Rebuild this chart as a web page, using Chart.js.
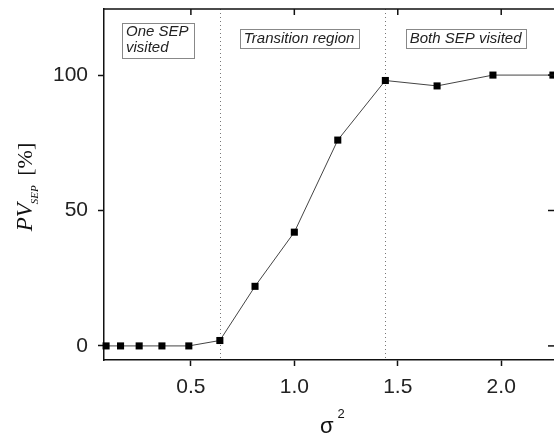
<!DOCTYPE html>
<html>
<head>
<meta charset="utf-8">
<script src="https://cdn.jsdelivr.net/npm/chart.js@4/dist/chart.umd.min.js"></script>
<style>
  html, body { margin: 0; padding: 0; background: #fff; overflow: hidden; }
  #wrap { width: 560px; height: 439px; }
</style>
</head>
<body>
<div id="wrap"><canvas id="c" width="560" height="439"></canvas></div>
<script>
// ---- data ----
const sigma2 = [0.09, 0.16, 0.25, 0.36, 0.49, 0.64, 0.81, 1.00, 1.21, 1.44, 1.69, 1.96, 2.25];
const pvSep  = [0, 0, 0, 0, 0, 2, 22, 42, 76, 98, 96, 100, 100];
const xTickValues = [0.5, 1.0, 1.5, 2.0];
const yTickValues = [0, 50, 100];
const regionBoundaries = [0.64, 1.44];
const regionLabels = [
  { lines: ['One SEP', 'visited'], x: 0.34, y: 112.9 },
  { lines: ['Transition region'],  x: 1.023, y: 113.5 },
  { lines: ['Both SEP visited'],   x: 1.828, y: 113.5 }
];

const points = sigma2.map((x, i) => ({ x: x, y: pvSep[i] }));

const framePlugin = {
  id: 'frame',
  beforeDatasetsDraw(chart) {
    const ctx = chart.ctx, a = chart.chartArea, xs = chart.scales.x;
    ctx.save();
    ctx.strokeStyle = '#777';
    ctx.lineWidth = 1;
    ctx.setLineDash([1, 3]);
    regionBoundaries.forEach(v => {
      const px = Math.round(xs.getPixelForValue(v)) + 0.5;
      ctx.beginPath(); ctx.moveTo(px, a.top); ctx.lineTo(px, a.bottom); ctx.stroke();
    });
    ctx.restore();
  },
  afterDraw(chart) {
    const ctx = chart.ctx, a = chart.chartArea, xs = chart.scales.x, ys = chart.scales.y;
    ctx.save();
    // top and right frame
    ctx.strokeStyle = '#111';
    ctx.lineWidth = 1.5;
    ctx.beginPath();
    ctx.moveTo(a.left, a.top); ctx.lineTo(a.right, a.top); ctx.lineTo(a.right, a.bottom);
    ctx.stroke();
    // inward ticks on top and right
    xTickValues.forEach(v => {
      const px = xs.getPixelForValue(v);
      ctx.beginPath(); ctx.moveTo(px, a.top); ctx.lineTo(px, a.top + 6); ctx.stroke();
    });
    yTickValues.forEach(v => {
      const py = ys.getPixelForValue(v);
      ctx.beginPath(); ctx.moveTo(a.right, py); ctx.lineTo(a.right - 7, py); ctx.stroke();
    });

    // region label boxes
    ctx.font = 'italic 15px "Liberation Sans", Arial, sans-serif';
    ctx.textBaseline = 'middle';
    regionLabels.forEach(r => {
      const cx = xs.getPixelForValue(r.x), cy = ys.getPixelForValue(r.y);
      const w = Math.max(...r.lines.map(t => ctx.measureText(t).width));
      const lh = 16;
      const bw = w + (r.lines.length > 1 ? 9 : 8), bh = r.lines.length * lh + 3;
      const bx = Math.round(cx - bw / 2), by = Math.round(cy - bh / 2);
      ctx.fillStyle = '#fff';
      ctx.fillRect(bx, by, bw, bh);
      ctx.strokeStyle = '#888';
      ctx.lineWidth = 1;
      ctx.strokeRect(bx + 0.5, by + 0.5, Math.round(bw), Math.round(bh));
      ctx.fillStyle = '#222';
      ctx.textAlign = r.lines.length > 1 ? 'left' : 'center';
      r.lines.forEach((t, i) => {
        const ty = cy - (r.lines.length - 1) * lh / 2 + i * lh;
        ctx.fillText(t, r.lines.length > 1 ? bx + 4 : cx, ty);
      });
    });

    // y axis title: PV_SEP [%]
    ctx.save();
    ctx.translate(32, 187);
    ctx.rotate(-Math.PI / 2);
    ctx.fillStyle = '#111';
    ctx.textAlign = 'left';
    ctx.textBaseline = 'alphabetic';
    const fMain = 'italic 23px "Liberation Serif", "Times New Roman", serif';
    const fSub = 'italic 11px "Liberation Serif", "Times New Roman", serif';
    const fBr = '22px "Liberation Serif", "Times New Roman", serif';
    const gap = 3;
    ctx.font = fMain; const w1 = ctx.measureText('PV').width;
    ctx.font = fSub; const w2 = ctx.measureText('SEP').width;
    ctx.font = fBr; const w3 = ctx.measureText(' [%]').width;
    let x0 = -(w1 + w2 + w3 + gap) / 2;
    ctx.font = fMain; ctx.fillText('PV', x0, 0); x0 += w1;
    ctx.font = fSub; ctx.fillText('SEP', x0 - 1, 6); x0 += w2 + gap;
    ctx.font = fBr; ctx.fillText(' [%]', x0, 0);
    ctx.restore();

    // x axis title: sigma^2
    ctx.fillStyle = '#111';
    ctx.textAlign = 'left';
    ctx.textBaseline = 'alphabetic';
    ctx.font = '22px "Liberation Sans", Arial, sans-serif';
    const ws = ctx.measureText('σ').width;
    ctx.fillText('σ', 320, 433);
    ctx.font = '13px "Liberation Sans", Arial, sans-serif';
    ctx.fillText('2', 320 + ws + 4, 418);
    ctx.restore();
  }
};

new Chart(document.getElementById('c'), {
  type: 'line',
  data: {
    datasets: [{
      data: points,
      borderColor: '#444',
      borderWidth: 1,
      pointStyle: 'rect',
      pointRadius: 5,
      pointHoverRadius: 5,
      pointBackgroundColor: '#000',
      pointBorderColor: '#000',
      pointBorderWidth: 0,
      tension: 0,
      clip: false
    }]
  },
  options: {
    responsive: false,
    animation: false,
    devicePixelRatio: 1,
    layout: { padding: { left: 0, top: 9, right: 4, bottom: 0 } },
    plugins: { legend: { display: false }, tooltip: { enabled: false } },
    scales: {
      x: {
        type: 'linear',
        min: 0.08,
        max: 2.26,
        afterFit(s) { s.height = 79; s.paddingLeft = 0; s.paddingRight = 0; },
        afterBuildTicks(s) { s.ticks = xTickValues.map(v => ({ value: v })); },
        grid: { drawOnChartArea: false, drawTicks: true, tickLength: 6, tickWidth: 1.5, tickColor: '#111' },
        border: { display: true, color: '#111', width: 1.5 },
        ticks: {
          color: '#222',
          padding: 9,
          maxRotation: 0,
          font: { family: '"Liberation Sans", Arial, sans-serif', size: 21 },
          callback: v => Number(v).toFixed(1)
        }
      },
      y: {
        type: 'linear',
        min: -5.2,
        max: 124.4,
        afterFit(s) { s.width = 104; s.paddingTop = 0; s.paddingBottom = 0; },
        afterBuildTicks(s) { s.ticks = yTickValues.map(v => ({ value: v })); },
        grid: { drawOnChartArea: false, drawTicks: true, tickLength: 6, tickWidth: 1.5, tickColor: '#111' },
        border: { display: true, color: '#111', width: 1.5 },
        ticks: {
          color: '#222',
          padding: 10,
          font: { family: '"Liberation Sans", Arial, sans-serif', size: 21 },
          callback: v => String(v)
        }
      }
    }
  },
  plugins: [framePlugin]
});
</script>
</body>
</html>
